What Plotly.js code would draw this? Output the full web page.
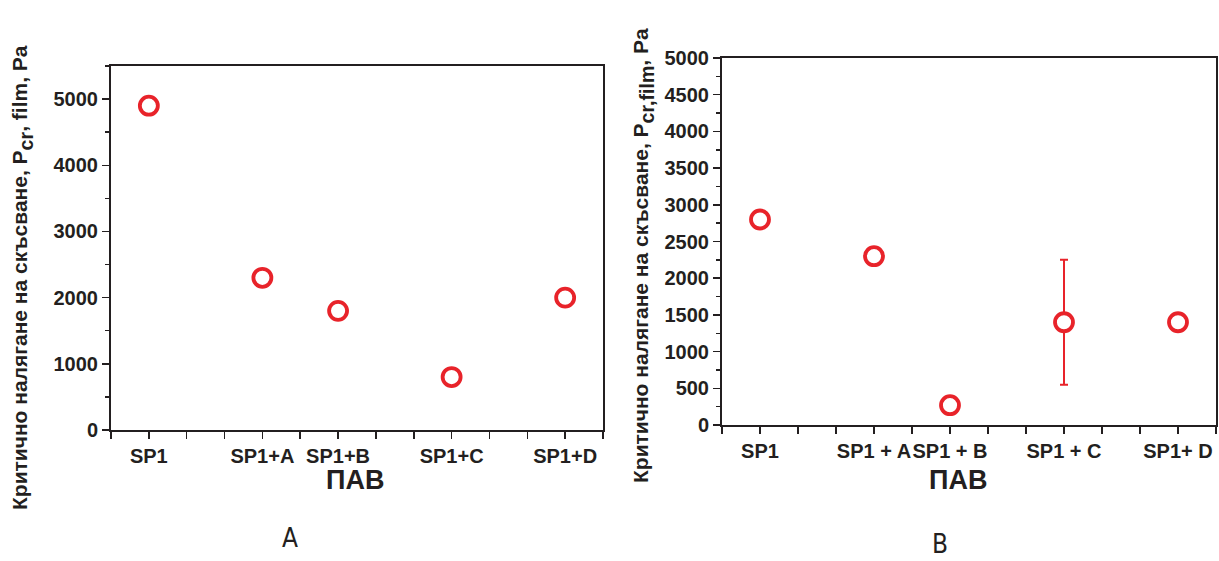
<!DOCTYPE html>
<html>
<head>
<meta charset="utf-8">
<script src="https://cdn.plot.ly/plotly-3.0.1.min.js"></script>
<style>html,body{margin:0;padding:0;background:#fff;}#chart{width:1219px;height:561px;}</style>
</head>
<body>
<div id="chart"></div>
<script>
// Category slots along the x axis (0..13 scale, as in the original figure)
const slotsA = [1, 4, 6, 9, 12];
const labelsA = ['SP1', 'SP1+A', 'SP1+B', 'SP1+C', 'SP1+D'];
const valuesA = [4900, 2300, 1800, 800, 2000];

const slotsB = [1, 4, 6, 9, 12];
const labelsB = ['SP1', 'SP1 + A', 'SP1 + B', 'SP1 + C', 'SP1+ D'];
const valuesB = [2800, 2300, 270, 1400, 1400];
const errorsB = [null, null, null, 850, null];

const xTitle = 'ПАВ';
const yTitleA = 'Критично налягане на скъсване, P<span style="font-size:28px"><sub>cr</sub></span>, film, Pa';
const yTitleB = 'Критично налягане на скъсване, P<span style="font-size:28px"><sub>cr,film</sub></span>, Pa';

const RED = '#e8232a';
const INK = '#231f20';
const FONT = 'Liberation Sans, Arial, sans-serif';
const W = 1219, H = 561;

function marker() {
  return {symbol: 'circle', size: 18, color: '#ffffff', line: {color: RED, width: 3.8}};
}

const traces = [
  {x: slotsA, y: valuesA, type: 'scatter', mode: 'markers', marker: marker(),
   xaxis: 'x', yaxis: 'y', hoverinfo: 'skip', cliponaxis: false},
  {x: slotsB, y: valuesB, type: 'scatter', mode: 'markers', marker: marker(),
   error_y: {type: 'data', array: errorsB, visible: true, color: RED, thickness: 2, width: 4},
   xaxis: 'x2', yaxis: 'y2', hoverinfo: 'skip', cliponaxis: false}
];

function xaxis(domain, labels, slots, anchor) {
  return {
    domain: domain, anchor: anchor, range: [0, 13], fixedrange: true,
    tickmode: 'array', tickvals: slots, ticktext: labels, tickangle: 0,
    ticklabeloverflow: 'allow',
    ticks: 'outside', ticklen: 7, tickwidth: 1.5, tickcolor: INK,
    minor: {dtick: 1, tick0: 0, ticks: 'outside', ticklen: 7, tickwidth: 1.5, tickcolor: INK},
    showline: true, linecolor: INK, linewidth: 2, mirror: true,
    showgrid: false, zeroline: false,
    tickfont: {family: FONT, size: 20, color: INK, weight: 'bold'}
  };
}
function yaxis(domain, range, dtick, anchor) {
  return {
    domain: domain, anchor: anchor, range: range, fixedrange: true,
    tickmode: 'linear', tick0: 0, dtick: dtick,
    ticks: 'outside', ticklen: 7, tickwidth: 1.5, tickcolor: INK,
    minor: {dtick: dtick / 2, ticks: 'outside', ticklen: 4, tickwidth: 1.5, tickcolor: INK},
    showline: true, linecolor: INK, linewidth: 2, mirror: true,
    showgrid: false, zeroline: false,
    tickfont: {family: FONT, size: 20, color: INK, weight: 'bold'}
  };
}

const layout = {
  width: W, height: H,
  margin: {l: 0, r: 0, t: 0, b: 0},
  paper_bgcolor: '#ffffff', plot_bgcolor: '#ffffff',
  showlegend: false,
  xaxis: xaxis([111 / W, 603 / W], labelsA, slotsA, 'y'),
  yaxis: yaxis([1 - 430 / H, 1 - 66 / H], [0, 5500], 1000, 'x'),
  xaxis2: xaxis([722 / W, 1216 / W], labelsB, slotsB, 'y2'),
  yaxis2: yaxis([1 - 425 / H, 1 - 58 / H], [0, 5000], 500, 'x2'),
  annotations: [
    {text: yTitleA, xref: 'paper', yref: 'paper', x: 22 / W, y: 1 - 278 / H,
     textangle: -90, showarrow: false, xanchor: 'center', yanchor: 'middle',
     font: {family: FONT, size: 21, color: INK, weight: 'bold'}},
    {text: yTitleB, xref: 'paper', yref: 'paper', x: 644 / W, y: 1 - 256 / H,
     textangle: -90, showarrow: false, xanchor: 'center', yanchor: 'middle',
     font: {family: FONT, size: 21, color: INK, weight: 'bold'}},
    {text: xTitle, xref: 'paper', yref: 'paper', x: 355 / W, y: 1 - 480 / H,
     showarrow: false, xanchor: 'center', yanchor: 'middle',
     font: {family: FONT, size: 27, color: INK, weight: 'bold'}},
    {text: xTitle, xref: 'paper', yref: 'paper', x: 958 / W, y: 1 - 480 / H,
     showarrow: false, xanchor: 'center', yanchor: 'middle',
     font: {family: FONT, size: 27, color: INK, weight: 'bold'}},
    {text: 'A', xref: 'paper', yref: 'paper', x: 290 / W, y: 1 - 538 / H,
     showarrow: false, xanchor: 'center', yanchor: 'middle',
     font: {family: 'DejaVu Sans Condensed, DejaVu Sans, sans-serif', size: 26, color: INK}},
    {text: 'B', xref: 'paper', yref: 'paper', x: 940 / W, y: 0,
     showarrow: false, xanchor: 'center', yanchor: 'bottom',
     font: {family: 'DejaVu Sans Condensed, DejaVu Sans, sans-serif', size: 26, color: INK}}
  ]
};

Plotly.newPlot('chart', traces, layout, {displayModeBar: false, staticPlot: true});
</script>
</body>
</html>
